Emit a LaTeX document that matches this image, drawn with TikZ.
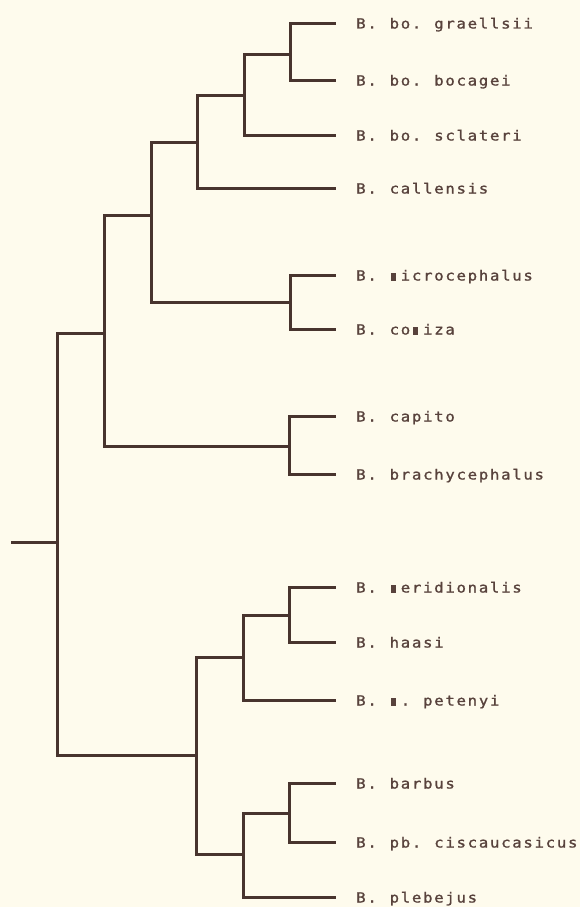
\documentclass[tikz,border=0pt]{standalone}
\usepackage{fontspec}
\newfontfamily\labfont[FakeBold=1.2,FakeStretch=1.12]{DejaVu Sans Mono}
\newlength\monopitch
\setlength\monopitch{11.15pt}
\ExplSyntaxOn
\str_new:N \l_mono_label_str
\NewDocumentCommand\mono{m}{
  \str_set:Nx \l_mono_label_str {#1}
  \str_map_inline:Nn \l_mono_label_str {
    \str_if_eq:nnTF {##1}{*}
      {\makebox[\monopitch][l]{\hspace{1.4pt}\rule{4.8pt}{7.5pt}}}
      {\makebox[\monopitch][l]{##1}}
  }
}
\ExplSyntaxOff
\definecolor{bg}{RGB}{254,251,237}
\definecolor{ink}{RGB}{72,52,46}
\definecolor{txt}{RGB}{88,66,60}
\begin{document}
\begin{tikzpicture}[x=1pt,y=-1pt,
  branch/.style={draw=ink,line width=2.1pt,line cap=rect},
  leaf/.style={anchor=base west,inner sep=0pt,text=txt,font=\labfont\fontsize{14pt}{16pt}\selectfont}]
\fill[bg] (0,0) rectangle (580,907);
\useasboundingbox (0,0) rectangle (580,907);
% leaf ends and labels
\foreach \n/\y/\t in {
  1/23.5/{B. bo. graellsii},
  2/80.5/{B. bo. bocagei},
  3/135.5/{B. bo. sclateri},
  4/188.5/{B. callensis},
  5/275.5/{B. *icrocephalus},
  6/329.5/{B. co*iza},
  7/416.5/{B. capito},
  8/474.5/{B. brachycephalus},
  9/587.5/{B. *eridionalis},
  10/642.5/{B. haasi},
  11/700.5/{B. *. petenyi},
  12/783.5/{B. barbus},
  13/842.5/{B. pb. ciscaucasicus},
  14/897.5/{B. plebejus}}{
  \coordinate (e\n) at (335,\y);
  \node[leaf] (L\n) at (356,\y+5) {\mono{\t}};
}
% internal nodes
\coordinate (n1) at (290.5,54.5);
\coordinate (n2) at (244.5,95.5);
\coordinate (n3) at (197.5,142.5);
\coordinate (n4) at (290.5,302.5);
\coordinate (n5) at (151.5,215.5);
\coordinate (n6) at (289.5,446.5);
\coordinate (n7) at (104.5,333.5);
\coordinate (n8) at (289.5,615.5);
\coordinate (n9) at (243.5,657.5);
\coordinate (n10) at (289.5,813.5);
\coordinate (n11) at (243.5,854.5);
\coordinate (n12) at (196.5,755.5);
\coordinate (root) at (57.5,542.5);
\coordinate (stub) at (12,542.5);
% branches
\draw[branch] (n1) |- (e1); \draw[branch] (n1) |- (e2);
\draw[branch] (n2) |- (n1); \draw[branch] (n2) |- (e3);
\draw[branch] (n3) |- (n2); \draw[branch] (n3) |- (e4);
\draw[branch] (n4) |- (e5); \draw[branch] (n4) |- (e6);
\draw[branch] (n5) |- (n3); \draw[branch] (n5) |- (n4);
\draw[branch] (n6) |- (e7); \draw[branch] (n6) |- (e8);
\draw[branch] (n7) |- (n5); \draw[branch] (n7) |- (n6);
\draw[branch] (n8) |- (e9); \draw[branch] (n8) |- (e10);
\draw[branch] (n9) |- (n8); \draw[branch] (n9) |- (e11);
\draw[branch] (n10) |- (e12); \draw[branch] (n10) |- (e13);
\draw[branch] (n11) |- (n10); \draw[branch] (n11) |- (e14);
\draw[branch] (n12) |- (n9); \draw[branch] (n12) |- (n11);
\draw[branch] (root) |- (n7); \draw[branch] (root) |- (n12);
\draw[branch] (stub) -- (root);
\end{tikzpicture}
\end{document}
